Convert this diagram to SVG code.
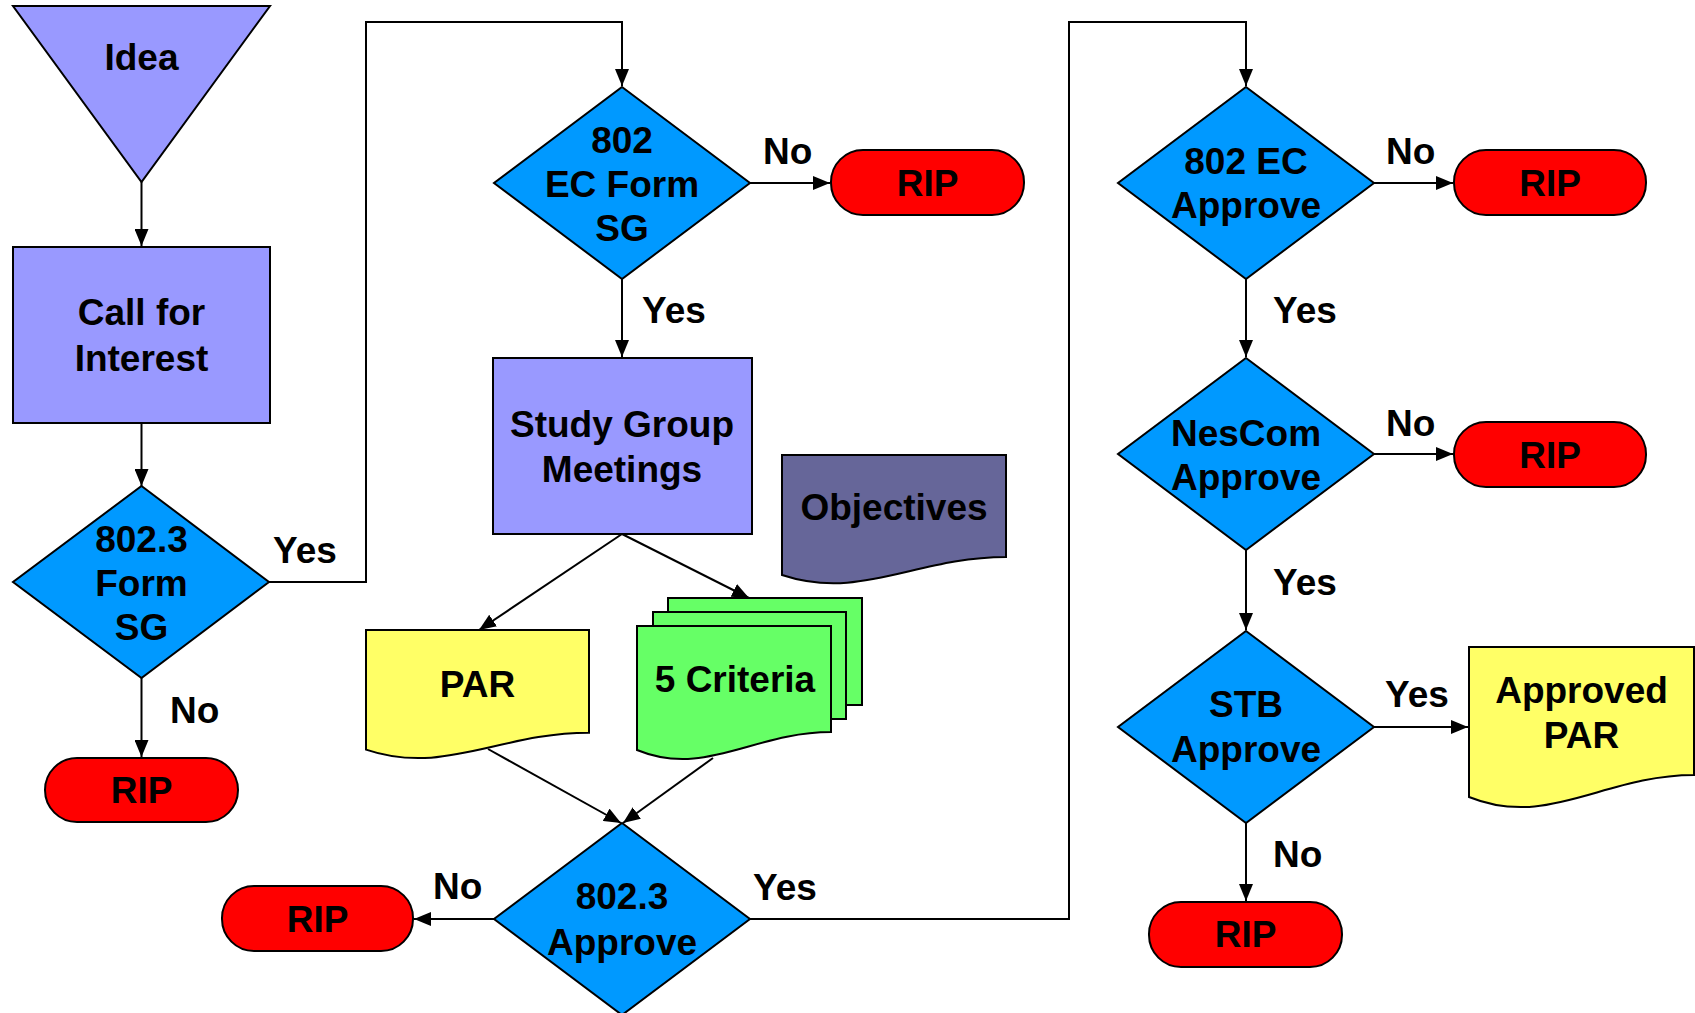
<svg xmlns="http://www.w3.org/2000/svg" width="1695" height="1013" viewBox="0 0 1695 1013">
<style>
.s{stroke:#000;stroke-width:2;stroke-linejoin:miter}
.proc{fill:#9999FF}
.dec{fill:#0099FF}
.rip{fill:#FF0000}
.doc{fill:#FFFF66}
.grn{fill:#66FF66}
.obj{fill:#666699}
text{font-family:"Liberation Sans",Arial,Helvetica,sans-serif;font-weight:bold;font-size:37px;fill:#000;text-anchor:middle}
.lbl{text-anchor:start}
.c{fill:none;stroke:#000;stroke-width:2}
</style>
<defs>
<marker id="ah" markerUnits="userSpaceOnUse" markerWidth="18" markerHeight="14" refX="17" refY="7" orient="auto">
<path d="M0,0 L17,7 L0,14 Z" fill="#000"/>
</marker>
</defs>
<rect width="1695" height="1013" fill="#fff"/>

<g id="connectors">
<path class="c" d="M141.5,182 V246" marker-end="url(#ah)"/>
<path class="c" d="M141.5,423 V486" marker-end="url(#ah)"/>
<path class="c" d="M141.5,678 V757" marker-end="url(#ah)"/>
<path class="c" d="M269,582 H366 V22 H622 V86" marker-end="url(#ah)"/>
<path class="c" d="M750,183 H830" marker-end="url(#ah)"/>
<path class="c" d="M622,279 V357" marker-end="url(#ah)"/>
<path class="c" d="M622,534 L479,630" marker-end="url(#ah)"/>
<path class="c" d="M622,534 L749,598" marker-end="url(#ah)"/>
<path class="c" d="M488,749 L621,823" marker-end="url(#ah)"/>
<path class="c" d="M713,758 L623,823" marker-end="url(#ah)"/>
<path class="c" d="M494,919 H414" marker-end="url(#ah)"/>
<path class="c" d="M750,919 H1069 V22 H1246 V86" marker-end="url(#ah)"/>
<path class="c" d="M1374,183 H1453" marker-end="url(#ah)"/>
<path class="c" d="M1246,279 V357" marker-end="url(#ah)"/>
<path class="c" d="M1374,454 H1453" marker-end="url(#ah)"/>
<path class="c" d="M1246,550 V630" marker-end="url(#ah)"/>
<path class="c" d="M1374,727 H1468" marker-end="url(#ah)"/>
<path class="c" d="M1246,823 V901" marker-end="url(#ah)"/>
</g>

<g id="labels">
<text class="lbl" x="273" y="563">Yes</text>
<text class="lbl" x="170" y="723">No</text>
<text class="lbl" x="763" y="164">No</text>
<text class="lbl" x="642" y="323">Yes</text>
<text class="lbl" x="433" y="899">No</text>
<text class="lbl" x="753" y="900">Yes</text>
<text class="lbl" x="1386" y="164">No</text>
<text class="lbl" x="1273" y="323">Yes</text>
<text class="lbl" x="1386" y="436">No</text>
<text class="lbl" x="1273" y="595">Yes</text>
<text class="lbl" x="1385" y="707">Yes</text>
<text class="lbl" x="1273" y="867">No</text>
</g>

<g id="idea">
<path class="s proc" d="M13,6 H270 L141.5,182 Z"/>
<text x="141.5" y="70">Idea</text>
</g>

<g id="call-for-interest">
<rect class="s proc" x="13" y="247" width="257" height="176"/>
<text x="141.5" y="325">Call for</text>
<text x="141.5" y="371">Interest</text>
</g>

<g id="form-sg-8023">
<path class="s dec" d="M141.5,486 L269,582 L141.5,678 L13,582 Z"/>
<text x="141.5" y="552">802.3</text>
<text x="141.5" y="596">Form</text>
<text x="141.5" y="640">SG</text>
</g>

<g id="rip-1">
<rect class="s rip" x="45" y="758" width="193" height="64" rx="32" ry="32"/>
<text x="141.5" y="803">RIP</text>
</g>

<g id="ec-form-sg">
<path class="s dec" d="M622,87 L750,183 L622,279 L494,183 Z"/>
<text x="622" y="153">802</text>
<text x="622" y="197">EC Form</text>
<text x="622" y="241">SG</text>
</g>

<g id="rip-2">
<rect class="s rip" x="831" y="150" width="193" height="65" rx="32" ry="32"/>
<text x="927.5" y="196">RIP</text>
</g>

<g id="study-group">
<rect class="s proc" x="493" y="358" width="259" height="176"/>
<text x="622" y="437">Study Group</text>
<text x="622" y="482">Meetings</text>
</g>

<g id="objectives">
<path class="s obj" d="M782,455 H1006 V557 C916.4,557 860.4,601 782,575 Z"/>
<text x="894" y="520">Objectives</text>
</g>

<g id="par">
<path class="s doc" d="M366,630 H589 V732.7 C499.8,732.7 444,776 366,749.6 Z"/>
<text x="477.5" y="697">PAR</text>
</g>

<g id="five-criteria">
<rect class="s grn" x="668" y="598" width="194" height="107"/>
<rect class="s grn" x="653" y="612" width="193" height="107"/>
<path class="s grn" d="M637,626 H831 V732 C753.4,732 704.9,778 637,750 Z"/>
<text x="735" y="692">5 Criteria</text>
</g>

<g id="approve-8023">
<path class="s dec" d="M622,823 L750,919 L622,1015 L494,919 Z"/>
<text x="622" y="909">802.3</text>
<text x="622" y="955">Approve</text>
</g>

<g id="rip-3">
<rect class="s rip" x="222" y="886" width="191" height="65" rx="32" ry="32"/>
<text x="317.5" y="932">RIP</text>
</g>

<g id="ec-approve">
<path class="s dec" d="M1246,87 L1374,183 L1246,279 L1118,183 Z"/>
<text x="1246" y="174">802 EC</text>
<text x="1246" y="218">Approve</text>
</g>

<g id="rip-4">
<rect class="s rip" x="1454" y="150" width="192" height="65" rx="32" ry="32"/>
<text x="1550" y="196">RIP</text>
</g>

<g id="nescom-approve">
<path class="s dec" d="M1246,358 L1374,454 L1246,550 L1118,454 Z"/>
<text x="1246" y="446">NesCom</text>
<text x="1246" y="490">Approve</text>
</g>

<g id="rip-5">
<rect class="s rip" x="1454" y="422" width="192" height="65" rx="32" ry="32"/>
<text x="1550" y="468">RIP</text>
</g>

<g id="stb-approve">
<path class="s dec" d="M1246,631 L1374,727 L1246,823 L1118,727 Z"/>
<text x="1246" y="717">STB</text>
<text x="1246" y="762">Approve</text>
</g>

<g id="approved-par">
<path class="s doc" d="M1469,647 H1694 V775 C1604,775 1547.8,829 1469,797 Z"/>
<text x="1581.5" y="703">Approved</text>
<text x="1581.5" y="748">PAR</text>
</g>

<g id="rip-6">
<rect class="s rip" x="1149" y="902" width="193" height="65" rx="32" ry="32"/>
<text x="1245.5" y="947">RIP</text>
</g>
</svg>
